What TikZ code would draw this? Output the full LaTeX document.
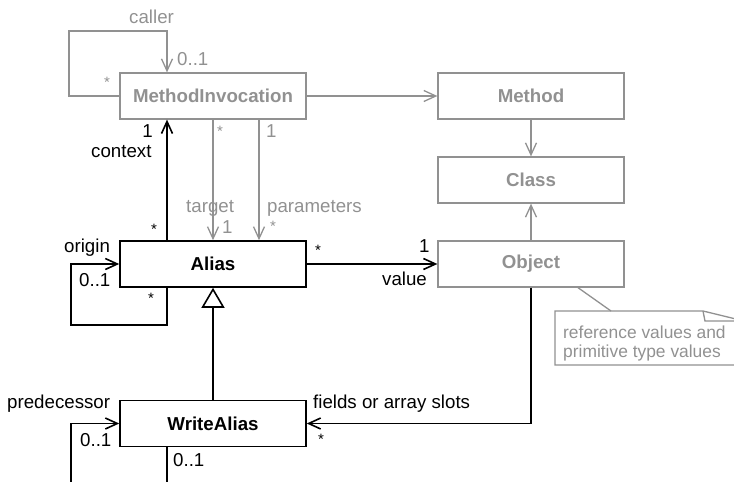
\documentclass[tikz,border=0pt]{standalone}
\usepackage{fontspec}
\setmainfont{Liberation Sans}
\usetikzlibrary{arrows.meta}
\definecolor{umlgray}{RGB}{145,145,145}
\begin{document}
\begin{tikzpicture}[x=1pt,y=-1pt,
  box/.style={draw=black, line width=1.6pt, minimum width=186pt, minimum height=46pt, inner sep=0pt,
    font=\fontsize{18.7}{22}\selectfont\bfseries},
  gbox/.style={box, draw=umlgray, text=umlgray, line width=1.3pt},
  lbl/.style={inner sep=0pt, anchor=base west, font=\fontsize{18.7}{22}\selectfont},
  glbl/.style={lbl, text=umlgray},
  star/.style={lbl, anchor=center, font=\fontsize{15}{18}\selectfont},
  gstar/.style={star, text=umlgray},
  notetxt/.style={inner sep=0pt, anchor=base west, text=umlgray, font=\fontsize{17.4}{20}\selectfont},
  bline/.style={line width=1.6pt, draw=black},
  gline/.style={line width=1.3pt, draw=umlgray},
  arr/.style={-{Straight Barb[length=12pt,width=11pt]}},
  gen/.style={-{Triangle[open,length=20pt,width=23pt,fill=white]}},
]
\useasboundingbox (0,0) rectangle (734,482);
\clip (0,0) rectangle (734,482);

% classes
\node[gbox] (MI) at (213,96) {MethodInvocation};
\node[gbox] (M) at (531,96) {Method};
\node[gbox] (C) at (531,180) {Class};
\node[gbox] (O) at (531,264) {Object};
\node[box] (A) at (213,264) {Alias};
\node[box] (W) at (213,423.5) {WriteAlias};

% caller loop
\coordinate (cc) at (69,31);
\draw[gline,arr] (MI.west) -| (cc) -| ([xshift=-46pt]MI.north);
% gray associations
\draw[gline,arr] (MI.east) -- (M.west);
\draw[gline,arr] (M.south) -- (C.north);
\draw[gline,arr] (O.north) -- (C.south);
\draw[gline,arr] (MI.south) -- (A.north);
\draw[gline,arr] ([xshift=46pt]MI.south) -- ([xshift=46pt]A.north);
% black associations
\draw[bline,arr] ([xshift=-46pt]A.north) -- ([xshift=-46pt]MI.south);
\draw[bline,arr] (A.east) -- (O.west);
\coordinate (oc) at (71,325);
\draw[bline,arr] ([xshift=-46pt]A.south) |- (oc) |- (A.west);
\draw[bline,gen] (W.north) -- (A.south);
\draw[bline,arr] (O.south) |- (W.east);
\coordinate (pc) at (71,500);
\draw[bline,arr] ([xshift=-46pt]W.south) |- (pc) |- (W.west);

% note
\coordinate (na) at (611,311);
\draw[gline] ([xshift=47pt]O.south) -- (na);
\draw[gline, line join=miter] (745,365) -- (555,365) -- (555,311) -- (703,311) -- (740,320);
\draw[gline] (703,311) -- (705,321) -- (745,321);
\node[notetxt] (note1) at (563,338) {reference values and};
\node[notetxt] (note2) at (563,357) {primitive type values};

% labels
\node[glbl] (lcaller) at (129,23) {caller};
\node[glbl] (lcm) at (177,65.7) {0..1};
\node[gstar] (lcs) at (107,82) {*};
\node[lbl, anchor=base east] (lctx1) at (153,137.7) {1};
\node[lbl] (lctx) at (91,157) {context};
\node[star] (lctxs) at (154,229) {*};
\node[gstar] (ltgs) at (220,131) {*};
\node[glbl] (ltg) at (186,212) {target};
\node[glbl] (ltg1) at (222,233) {1};
\node[glbl] (lpa1) at (266,137.7) {1};
\node[glbl] (lpa) at (267,212) {parameters};
\node[gstar] (lpas) at (273,226) {*};
\node[lbl] (lor) at (64,252) {origin};
\node[lbl] (lorm) at (79,286) {0..1};
\node[star] (lors) at (151,298) {*};
\node[star] (lvas) at (318,250) {*};
\node[lbl] (lva1) at (419,252) {1};
\node[lbl] (lva) at (382,285.7) {value};
\node[lbl] (lpr) at (7,408) {predecessor};
\node[lbl] (lprm) at (80,446.7) {0..1};
\node[lbl] (lfi) at (313,408) {fields or array slots};
\node[star] (lfis) at (321,439) {*};
\node[lbl] (lwm) at (173,466.7) {0..1};
\end{tikzpicture}
\end{document}
